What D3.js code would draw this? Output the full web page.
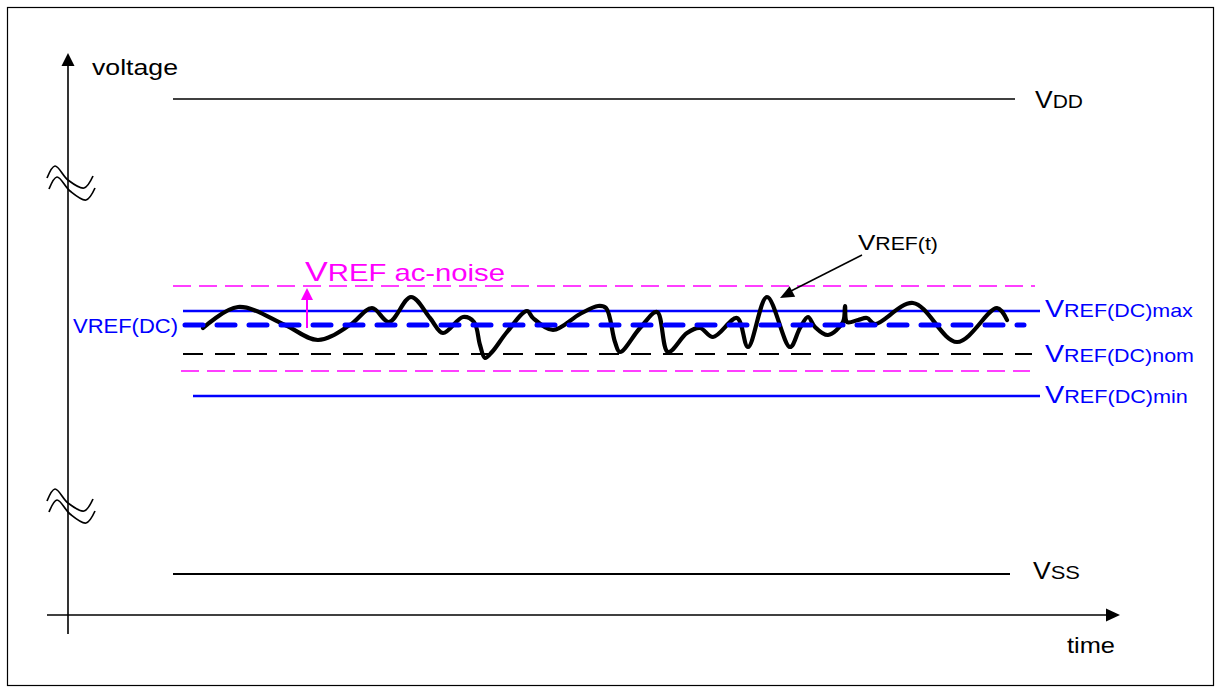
<!DOCTYPE html>
<html><head><meta charset="utf-8">
<script src="https://cdn.jsdelivr.net/npm/d3@7"></script>
<style>html,body{margin:0;padding:0;background:#fff}svg{display:block}text{font-family:"Liberation Sans",Arial,sans-serif}</style>
</head><body><svg id="c" width="1222" height="692"></svg>
<script>
// ---- data (voltage in fractions of VDD, time in arbitrary units) ----
const levelNames = ["VDD", "VSS", "VREF(DC)max", "VREF(DC)", "VREF(DC)nom", "VREF(DC)min", "noiseHigh", "noiseLow"];
const levelValues = [1.0, 0.0, 0.543, 0.529, 0.500, 0.458, 0.568, 0.483];
// VREF(t) waveform
const waveT = [203,238,285,318,350,372,389,411,430,443,463,474,480,485,492,507,527,533,553,580,598,606,615,620,640,657,668,687,700,713,737,748,767,790,800,808,815,828,843,845,847,858,867,875,913,957,997,1007];
const waveV = [0.526,0.547,0.529,0.514,0.529,0.546,0.532,0.557,0.536,0.521,0.537,0.532,0.509,0.496,0.502,0.522,0.543,0.536,0.524,0.540,0.548,0.546,0.512,0.502,0.526,0.542,0.502,0.521,0.526,0.517,0.536,0.507,0.557,0.507,0.526,0.537,0.527,0.519,0.532,0.548,0.532,0.534,0.536,0.530,0.551,0.512,0.546,0.534];
const axisLabels = ["voltage", "time"];

// ---- scales ----
const x = d3.scaleLinear().domain([0, 1000]).range([0, 1000]);
// broken voltage axis: compressed outside the VREF zone
const y = d3.scaleLinear().domain([0, 0.42, 0.6, 1]).range([574, 434, 254, 99]);

const svg = d3.select("#c");
const BLUE = "#0000ff", MAG = "#ff00ff";

// frame
svg.append("rect").attr("x", 7.5).attr("y", 7.5).attr("width", 1206).attr("height", 678)
  .attr("fill", "none").attr("stroke", "#000").attr("stroke-width", 1.2);

// axes
const axX = 68, axY = 615;
svg.append("line").attr("x1", axX).attr("x2", axX).attr("y1", 62).attr("y2", 634).attr("stroke", "#000").attr("stroke-width", 1.6);
svg.append("path").attr("d", `M${axX},53 L${axX-6.5},66 L${axX+6.5},66 Z`).attr("fill", "#000");
svg.append("line").attr("x1", 47).attr("x2", 1110).attr("y1", axY).attr("y2", axY).attr("stroke", "#000").attr("stroke-width", 1.6);
svg.append("path").attr("d", `M1120,${axY} L1106,${axY-6.5} L1106,${axY+6.5} Z`).attr("fill", "#000");

// axis breaks
function breakMark(cy) {
  const c1 = [[47,cy-2],[55,cy-14],[68,cy],[84,cy+8],[93,cy-4]];
  const c2 = [[49,cy+9],[57,cy-3],[70,cy+11],[86,cy+20],[95,cy+8]];
  const ln = d3.line().curve(d3.curveCatmullRom.alpha(0.5));
  [c1, c2].forEach(c => svg.append("path").attr("d", ln(c)).attr("fill", "none").attr("stroke", "#000").attr("stroke-width", 1.7));
}
breakMark(180);
breakMark(503);

function lvl(name) { return levelValues[levelNames.indexOf(name)]; }
function hline(name, x1, x2, color, w, dash, cap) {
  const l = svg.append("line").attr("x1", x(x1)).attr("x2", x(x2))
    .attr("y1", y(lvl(name))).attr("y2", y(lvl(name)))
    .attr("stroke", color).attr("stroke-width", w);
  if (dash) l.attr("stroke-dasharray", dash);
  if (cap) l.attr("stroke-linecap", cap);
  return l;
}
hline("VDD", 173, 1015, "#000", 1.5);
hline("VSS", 173, 1010, "#000", 2.2);
hline("noiseHigh", 173, 1035, MAG, 1.5, "18,8");
hline("noiseLow", 181, 1030, MAG, 1.5, "18,8");
hline("VREF(DC)nom", 183, 1032, "#000", 2.2, "20,12");
hline("VREF(DC)max", 183, 1040, BLUE, 2.4);
hline("VREF(DC)min", 193, 1040, BLUE, 2.4);

// waveform
const wave = waveT.map((t, i) => [x(t), y(waveV[i])]);
svg.append("path").attr("d", d3.line().curve(d3.curveCatmullRom.alpha(0.5))(wave))
  .attr("fill", "none").attr("stroke", "#000").attr("stroke-width", 4.2).attr("stroke-linejoin", "round").attr("stroke-linecap", "round");

// VREF(DC) dashed (drawn over waveform)
hline("VREF(DC)", 185, 1024, BLUE, 5, "18,14", "round");

// magenta noise arrow
const ax = 307;
svg.append("line").attr("x1", ax).attr("x2", ax).attr("y1", y(lvl("VREF(DC)")) + 3).attr("y2", y(lvl("noiseHigh")) + 10)
  .attr("stroke", MAG).attr("stroke-width", 2);
svg.append("path").attr("d", `M${ax},${y(lvl("noiseHigh"))+2} L${ax-6},${y(lvl("noiseHigh"))+14} L${ax+6},${y(lvl("noiseHigh"))+14} Z`).attr("fill", MAG);

// VREF(t) pointer arrow
svg.append("line").attr("x1", 862).attr("y1", 255).attr("x2", 789).attr("y2", 292).attr("stroke", "#000").attr("stroke-width", 1.5);
(function(){
  const tx = 780, ty = 298, ang = Math.atan2(255 - 298, 862 - 780);
  const L = 14, W = 6;
  const bx = tx + L*Math.cos(ang), by = ty + L*Math.sin(ang);
  const px = -Math.sin(ang)*W, py = Math.cos(ang)*W;
  svg.append("path").attr("d", `M${tx},${ty} L${bx+px},${by+py} L${bx-px},${by-py} Z`).attr("fill", "#000");
})();

// labels: [parts], x, baseline, target width, color
function label(parts, lx, ly, width, color) {
  const g = svg.append("g");
  const t = g.append("text").attr("x", 0).attr("y", 0).attr("fill", color);
  parts.forEach(p => t.append("tspan").attr("font-size", p[1]).text(p[0]));
  const w = t.node().getBBox().width;
  g.attr("transform", `translate(${lx},${ly}) scale(${width / w},1)`);
}
label([[axisLabels[0], 22]], 92, 75, 86, "#000");
label([[axisLabels[1], 22]], 1067, 653, 48, "#000");
label([["V", 24], ["DD", 19]], 1035, 108, 48, "#000");
label([["V", 23], ["SS", 19]], 1033, 579, 47, "#000");
label([["V", 22], ["REF(t)", 18]], 858, 250, 80, "#000");
label([["V", 24], ["REF(DC)max", 18]], 1045, 317, 148, BLUE);
label([["V", 24], ["REF(DC)nom", 18]], 1045, 362, 149, BLUE);
label([["V", 24], ["REF(DC)min", 18]], 1045, 403, 143, BLUE);
label([["VREF(DC)", 21]], 73, 333, 105, BLUE);
label([["V", 28], ["REF ac-noise", 24]], 305, 281, 200, MAG);
</script></body></html>
